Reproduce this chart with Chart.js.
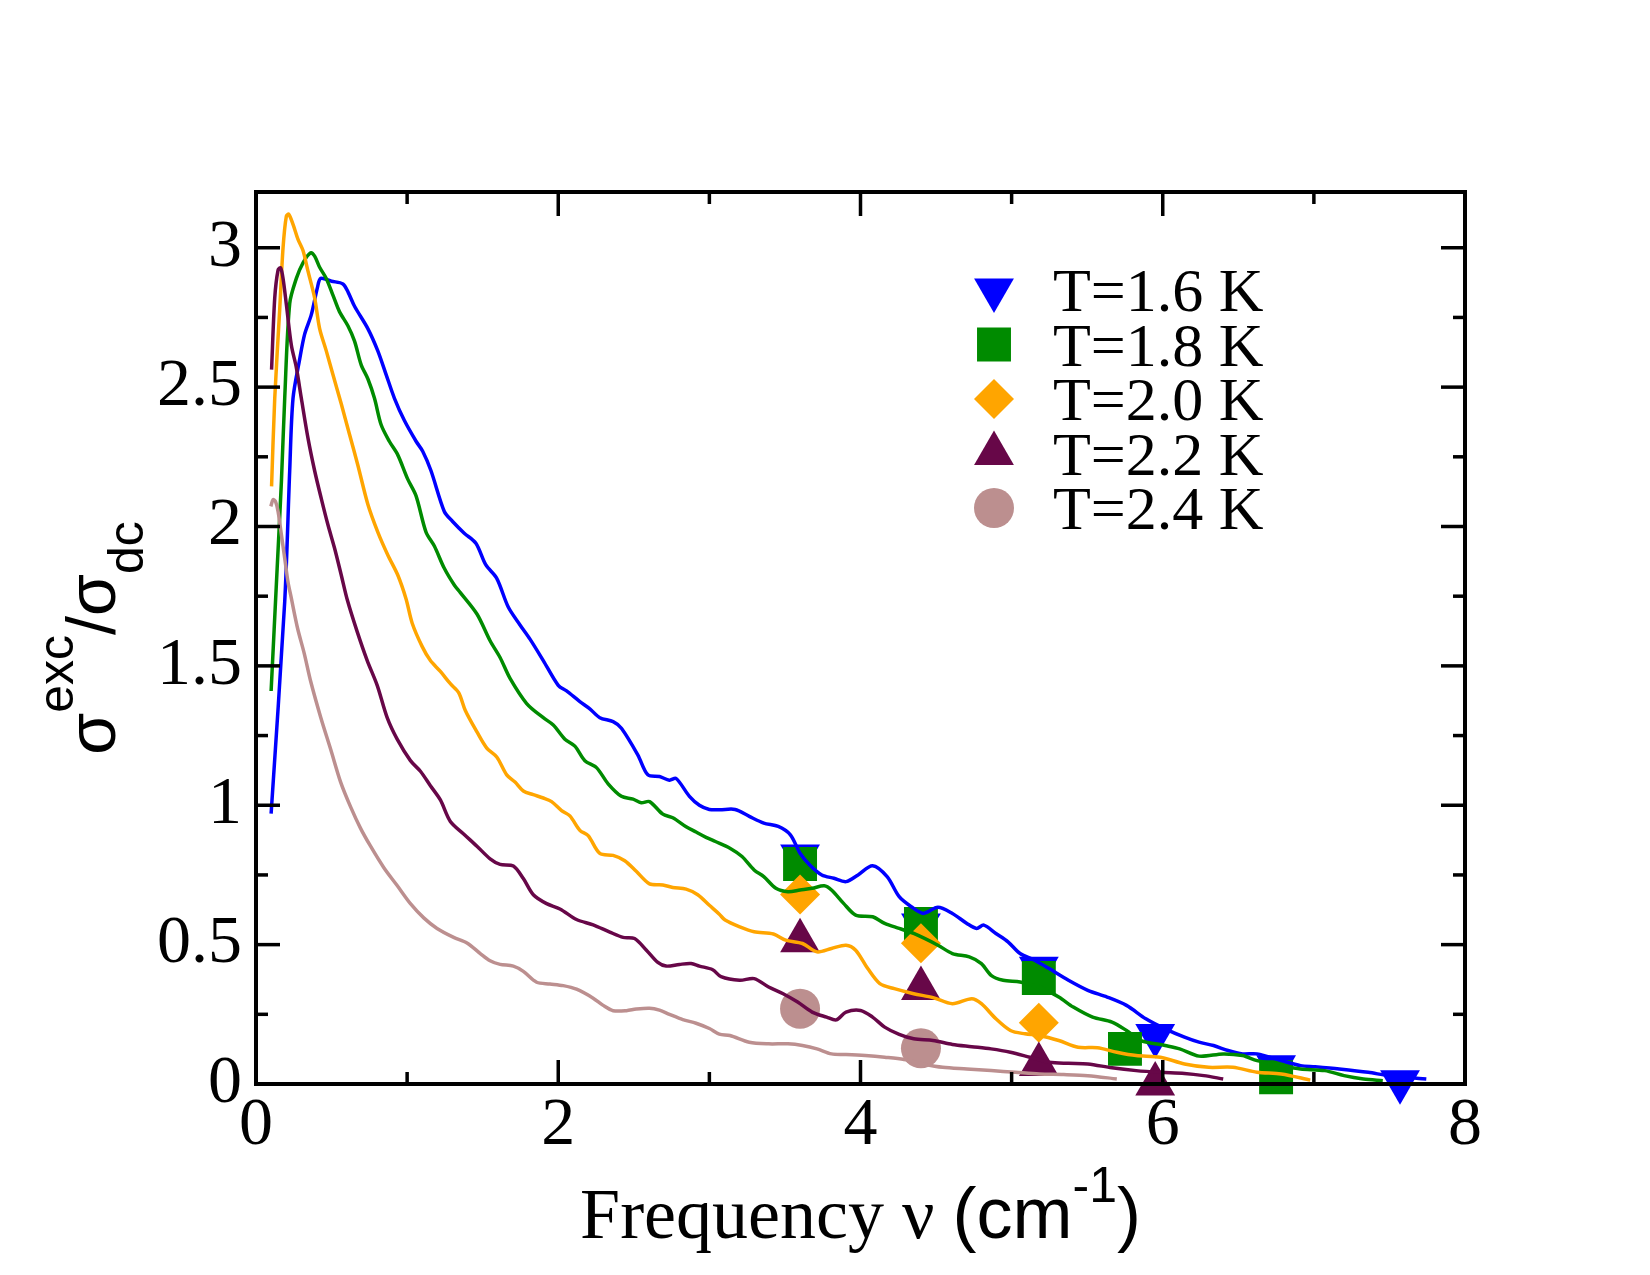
<!DOCTYPE html>
<html><head><meta charset="utf-8">
<script src="https://cdn.jsdelivr.net/npm/chart.js@4.4.0/dist/chart.umd.min.js"></script>
<style>html,body{margin:0;padding:0;background:#fff;}#wrap{width:1650px;height:1275px;position:relative;}</style>
</head><body><div id="wrap"><canvas id="c" width="1650" height="1275"></canvas></div>
<script>
// ---------- data ----------
const xTickLabels = [0, 2, 4, 6, 8];
const xMinorTicks = [1, 3, 5, 7];
const yTickLabels = [0, 0.5, 1, 1.5, 2, 2.5, 3];
const yMinorTicks = [0.25, 0.75, 1.25, 1.75, 2.25, 2.75];
const seriesNames = ['T=1.6 K', 'T=1.8 K', 'T=2.0 K', 'T=2.2 K', 'T=2.4 K'];
const seriesColors = ['#0000ff', '#008b00', '#ffa500', '#670748', '#bc8f8f'];

const line16X = [0.10,0.19,0.223,0.245,0.289,0.322,0.366,0.406,0.428,0.50,0.575,0.61,0.652,0.74,0.806,0.861,0.916,0.982,1.06,1.103,1.158,1.246,1.301,1.378,1.455,1.521,1.593,1.67,1.747,1.813,1.901,2.0,2.055,2.143,2.209,2.275,2.363,2.418,2.527,2.593,2.67,2.736,2.78,2.868,2.934,3.0,3.07,3.17,3.264,3.36,3.456,3.536,3.6,3.664,3.744,3.824,3.904,3.984,4.08,4.176,4.256,4.336,4.416,4.512,4.608,4.704,4.768,4.816,4.896,4.976,5.056,5.152,5.248,5.376,5.504,5.632,5.76,5.888,6.016,6.144,6.24,6.336,6.432,6.528,6.624,6.784,6.912,7.008,7.168,7.36,7.488,7.648,7.744];
const line16Y = [0.97,1.73,2.2,2.46,2.6,2.69,2.76,2.856,2.89,2.88,2.87,2.84,2.79,2.71,2.63,2.545,2.46,2.38,2.305,2.27,2.2,2.054,2.018,1.976,1.94,1.862,1.814,1.71,1.647,1.596,1.519,1.43,1.41,1.372,1.346,1.314,1.30,1.276,1.18,1.109,1.103,1.09,1.096,1.032,1.0,0.985,0.984,0.985,0.96,0.936,0.924,0.894,0.828,0.786,0.75,0.738,0.726,0.75,0.783,0.744,0.672,0.636,0.612,0.634,0.612,0.576,0.558,0.57,0.54,0.51,0.468,0.444,0.414,0.372,0.336,0.312,0.282,0.234,0.198,0.168,0.15,0.138,0.12,0.108,0.108,0.084,0.066,0.062,0.054,0.042,0.03,0.022,0.018];

const line18X = [0.10,0.14,0.168,0.19,0.223,0.267,0.311,0.362,0.388,0.421,0.465,0.509,0.553,0.608,0.652,0.696,0.74,0.784,0.828,0.883,0.938,1.004,1.059,1.125,1.18,1.246,1.312,1.352,1.462,1.549,1.615,1.681,1.791,1.901,1.967,2.044,2.11,2.176,2.253,2.33,2.418,2.495,2.549,2.604,2.692,2.758,2.846,2.912,2.978,3.04,3.136,3.216,3.296,3.36,3.44,3.52,3.6,3.68,3.76,3.808,3.888,3.968,4.08,4.16,4.256,4.352,4.512,4.608,4.72,4.8,4.864,4.944,5.056,5.184,5.312,5.408,5.536,5.664,5.76,5.856,6.016,6.112,6.24,6.4,6.528,6.624,6.784,6.912,7.072,7.2,7.328,7.456];
const line18Y = [1.41,1.85,2.16,2.46,2.8,2.89,2.946,2.982,2.97,2.93,2.89,2.83,2.77,2.72,2.665,2.58,2.53,2.46,2.365,2.305,2.257,2.17,2.11,1.98,1.93,1.85,1.79,1.763,1.686,1.59,1.53,1.455,1.365,1.314,1.288,1.237,1.212,1.16,1.135,1.077,1.032,1.022,1.009,1.013,0.968,0.955,0.923,0.904,0.885,0.87,0.846,0.816,0.768,0.744,0.702,0.69,0.696,0.702,0.711,0.696,0.648,0.606,0.60,0.576,0.558,0.54,0.498,0.468,0.456,0.432,0.39,0.372,0.366,0.348,0.312,0.276,0.24,0.222,0.192,0.156,0.138,0.126,0.10,0.108,0.102,0.084,0.066,0.054,0.048,0.03,0.018,0.012];

const line20X = [0.103,0.124,0.157,0.179,0.201,0.217,0.245,0.278,0.311,0.344,0.388,0.421,0.465,0.509,0.564,0.619,0.674,0.74,0.806,0.872,0.938,0.993,1.033,1.099,1.154,1.22,1.286,1.341,1.385,1.462,1.527,1.593,1.659,1.714,1.769,1.835,1.901,1.956,2.022,2.077,2.143,2.198,2.275,2.363,2.44,2.516,2.604,2.692,2.758,2.846,2.923,3.0,3.066,3.104,3.2,3.296,3.424,3.504,3.616,3.712,3.808,3.904,3.968,4.048,4.128,4.224,4.352,4.48,4.608,4.736,4.8,4.896,4.992,5.088,5.184,5.312,5.44,5.568,5.696,5.824,5.984,6.144,6.304,6.464,6.624,6.784,6.976];
const line20Y = [2.144,2.46,2.78,3.0,3.114,3.12,3.084,3.03,2.99,2.916,2.82,2.71,2.63,2.545,2.44,2.33,2.22,2.08,1.98,1.898,1.826,1.74,1.654,1.57,1.519,1.48,1.436,1.404,1.34,1.263,1.205,1.173,1.109,1.083,1.051,1.038,1.026,1.013,0.981,0.962,0.91,0.891,0.827,0.82,0.801,0.763,0.718,0.714,0.705,0.699,0.679,0.641,0.609,0.588,0.564,0.546,0.538,0.516,0.504,0.474,0.486,0.498,0.48,0.414,0.36,0.342,0.324,0.31,0.288,0.306,0.288,0.234,0.192,0.18,0.174,0.156,0.132,0.13,0.114,0.102,0.096,0.072,0.06,0.06,0.042,0.036,0.014];

const line22X = [0.103,0.124,0.146,0.163,0.179,0.201,0.234,0.267,0.3,0.344,0.388,0.432,0.476,0.52,0.564,0.604,0.67,0.736,0.802,0.868,0.934,1.022,1.088,1.154,1.22,1.286,1.374,1.462,1.549,1.615,1.703,1.769,1.835,1.923,2.011,2.121,2.231,2.341,2.429,2.505,2.582,2.659,2.714,2.802,2.879,2.934,3.022,3.077,3.2,3.296,3.392,3.488,3.584,3.68,3.776,3.84,3.904,4.0,4.08,4.16,4.256,4.352,4.48,4.608,4.736,4.864,4.992,5.12,5.248,5.376,5.504,5.664,5.824,5.984,6.144,6.272,6.4];
const line22Y = [2.563,2.82,2.92,2.928,2.89,2.796,2.65,2.57,2.46,2.317,2.2,2.1,2.006,1.922,1.826,1.737,1.622,1.519,1.43,1.314,1.237,1.16,1.122,1.07,1.019,0.942,0.897,0.853,0.808,0.788,0.782,0.737,0.679,0.647,0.628,0.59,0.571,0.545,0.526,0.522,0.481,0.436,0.423,0.429,0.432,0.423,0.41,0.385,0.372,0.378,0.348,0.324,0.294,0.258,0.24,0.23,0.258,0.264,0.24,0.204,0.178,0.162,0.156,0.142,0.134,0.126,0.114,0.096,0.078,0.074,0.072,0.058,0.048,0.042,0.038,0.03,0.018];

const line24X = [0.098,0.113,0.129,0.146,0.168,0.19,0.212,0.231,0.275,0.319,0.363,0.429,0.495,0.56,0.626,0.692,0.758,0.846,0.934,1.022,1.11,1.198,1.308,1.396,1.484,1.549,1.615,1.703,1.769,1.857,1.945,2.033,2.121,2.231,2.297,2.363,2.451,2.516,2.604,2.67,2.736,2.824,2.912,3.0,3.066,3.136,3.264,3.392,3.52,3.616,3.712,3.808,3.904,4.032,4.16,4.288,4.416,4.544,4.704,4.864,5.024,5.184,5.344,5.504,5.696];
const line24Y = [2.072,2.096,2.09,2.054,1.97,1.886,1.80,1.75,1.635,1.545,1.442,1.314,1.199,1.083,0.994,0.917,0.853,0.776,0.712,0.647,0.596,0.558,0.526,0.506,0.468,0.442,0.429,0.423,0.404,0.365,0.359,0.353,0.34,0.308,0.282,0.263,0.263,0.269,0.272,0.265,0.25,0.231,0.218,0.199,0.179,0.174,0.15,0.144,0.144,0.138,0.126,0.108,0.106,0.102,0.096,0.088,0.072,0.06,0.054,0.048,0.042,0.036,0.034,0.03,0.018];

const mark16X = [3.6, 4.4, 5.18, 5.95, 6.75, 7.57];
const mark16Y = [0.818, 0.57, 0.415, 0.174, 0.062, 0.008];
const mark18X = [3.6, 4.4, 5.18, 5.75, 6.75];
const mark18Y = [0.789, 0.574, 0.38, 0.126, 0.024];
const mark20X = [3.6, 4.4, 5.18];
const mark20Y = [0.68, 0.505, 0.22];
const mark22X = [3.6, 4.4, 5.18, 5.95];
const mark22Y = [0.514, 0.343, 0.07, 0.0];
const mark24X = [3.6, 4.4];
const mark24Y = [0.27, 0.128];

// ---------- build ----------
const SERIF = "'Liberation Serif','Times New Roman',serif";
const SANS = "'Liberation Sans',Arial,sans-serif";
const pts = (xs, ys) => xs.map((x, i) => ({x: x, y: ys[i]}));

const lineSets = [[line16X,line16Y],[line18X,line18Y],[line20X,line20Y],[line22X,line22Y],[line24X,line24Y]];
const markSets = [[mark16X,mark16Y],[mark18X,mark18Y],[mark20X,mark20Y],[mark22X,mark22Y],[mark24X,mark24Y]];
const markStyles = [
  {pointStyle:'triangle', rotation:180, radius:23},
  {pointStyle:'rect', rotation:0, radius:24},
  {pointStyle:'rectRot', rotation:0, radius:20},
  {pointStyle:'triangle', rotation:0, radius:23},
  {pointStyle:'circle', rotation:0, radius:20}
];

const datasets = [];
lineSets.forEach((s, i) => {
  datasets.push({
    label: seriesNames[i] + ' line', isLine: true,
    data: pts(s[0], s[1]), showLine: true, borderColor: seriesColors[i], backgroundColor: seriesColors[i],
    borderWidth: 3.5, pointRadius: 0, tension: 0.3, order: 5 - i
  });
});
markSets.forEach((s, i) => {
  datasets.push({
    label: seriesNames[i], isMarker: true, seriesIndex: i,
    data: pts(s[0], s[1]), showLine: false, borderColor: seriesColors[i], backgroundColor: seriesColors[i],
    borderWidth: 0, pointStyle: markStyles[i].pointStyle, rotation: markStyles[i].rotation,
    pointRadius: markStyles[i].radius, order: 20 - i, clip: false
  });
});

function drawMarker(ctx, st, color, x, y) {
  ctx.save();
  ctx.fillStyle = color; ctx.strokeStyle = color; ctx.lineWidth = 0;
  if (Chart.helpers && Chart.helpers.drawPoint) {
    Chart.helpers.drawPoint(ctx, {pointStyle: st.pointStyle, rotation: st.rotation, radius: st.radius, borderWidth: 0}, x, y);
  } else {
    const r = st.radius; ctx.beginPath();
    if (st.pointStyle === 'circle') ctx.arc(x, y, r, 0, Math.PI * 2);
    else if (st.pointStyle === 'rect') { const s = r * Math.SQRT1_2; ctx.rect(x - s, y - s, 2 * s, 2 * s); }
    else if (st.pointStyle === 'rectRot') { ctx.moveTo(x, y - r); ctx.lineTo(x + r, y); ctx.lineTo(x, y + r); ctx.lineTo(x - r, y); ctx.closePath(); }
    else { const rad = st.rotation * Math.PI / 180; for (let k = 0; k < 3; k++) { const a = rad + k * 2 * Math.PI / 3; const px = x + Math.sin(a) * r, py = y - Math.cos(a) * r; if (k === 0) ctx.moveTo(px, py); else ctx.lineTo(px, py); } ctx.closePath(); }
    ctx.fill();
  }
  ctx.restore();
}

const framePlugin = {
  id: 'frame',
  afterDraw(chart) {
    const ctx = chart.ctx, a = chart.chartArea, xs = chart.scales.x, ys = chart.scales.y;
    ctx.save();
    ctx.strokeStyle = '#000'; ctx.lineCap = 'butt';
    ctx.lineWidth = 3.5;
    const tick = (x1, y1, x2, y2) => { ctx.beginPath(); ctx.moveTo(x1, y1); ctx.lineTo(x2, y2); ctx.stroke(); };
    xTickLabels.forEach(v => { const p = xs.getPixelForValue(v); tick(p, a.bottom, p, a.bottom - 24); tick(p, a.top, p, a.top + 24); });
    xMinorTicks.forEach(v => { const p = xs.getPixelForValue(v); tick(p, a.bottom, p, a.bottom - 12); tick(p, a.top, p, a.top + 12); });
    yTickLabels.forEach(v => { const p = ys.getPixelForValue(v); tick(a.left, p, a.left + 24, p); tick(a.right, p, a.right - 24, p); });
    yMinorTicks.forEach(v => { const p = ys.getPixelForValue(v); tick(a.left, p, a.left + 12, p); tick(a.right, p, a.right - 12, p); });
    ctx.lineWidth = 4;
    ctx.strokeRect(a.left, a.top, a.right - a.left, a.bottom - a.top);

    // legend
    chart.data.datasets.forEach((ds) => {
      if (!ds.isMarker) return;
      const i = ds.seriesIndex;
      const rowY = 290 + i * 54.5;
      drawMarker(ctx, markStyles[i], ds.backgroundColor, 994, rowY);
      ctx.fillStyle = '#000'; ctx.font = '62px ' + SERIF; ctx.textAlign = 'left'; ctx.textBaseline = 'alphabetic';
      ctx.fillText(ds.label, 1053, rowY + 21);
    });

    // x title: Frequency ν (cm^-1)
    const cx = (a.left + a.right) / 2, base = 1238;
    const parts = [
      {t: 'Frequency \u03bd ', f: '72px ' + SERIF, dy: 0},
      {t: '(cm', f: '72px ' + SANS, dy: 0},
      {t: '-1', f: '50px ' + SANS, dy: -36},
      {t: ')', f: '72px ' + SANS, dy: 0}
    ];
    let W = 0;
    parts.forEach(p => { ctx.font = p.f; p.w = ctx.measureText(p.t).width; W += p.w; });
    let x = cx - W / 2;
    ctx.fillStyle = '#000'; ctx.textAlign = 'left'; ctx.textBaseline = 'alphabetic';
    parts.forEach(p => { ctx.font = p.f; ctx.fillText(p.t, x, base + p.dy); x += p.w; });

    // y title: σ^exc / σ_dc (rotated)
    const cy = (a.top + a.bottom) / 2;
    const yparts = [
      {t: '\u03c3', f: '68px ' + SANS, dy: 0},
      {t: 'exc', f: '50px ' + SANS, dy: -42},
      {t: '/', f: '68px ' + SANS, dy: 0},
      {t: '\u03c3', f: '68px ' + SANS, dy: 0},
      {t: 'dc', f: '50px ' + SANS, dy: 28}
    ];
    let W2 = 0;
    yparts.forEach(p => { ctx.font = p.f; p.w = ctx.measureText(p.t).width; W2 += p.w; });
    ctx.translate(115, cy); ctx.rotate(-Math.PI / 2);
    let lx = -W2 / 2;
    yparts.forEach(p => { ctx.font = p.f; ctx.fillText(p.t, lx, p.dy); lx += p.w; });
    ctx.restore();
  }
};

new Chart(document.getElementById('c'), {
  type: 'scatter',
  data: {datasets: datasets},
  options: {
    responsive: false, animation: false, devicePixelRatio: 1, events: [],
    layout: {padding: {left: 0, top: 192, right: 185, bottom: 0}},
    plugins: {legend: {display: false}, tooltip: {enabled: false}, title: {display: false}},
    scales: {
      x: {
        type: 'linear', position: 'bottom', min: 0, max: 8,
        grid: {display: false, drawTicks: false}, border: {display: false},
        ticks: {color: '#000', font: {family: SERIF, size: 68}, padding: 1, maxRotation: 0, autoSkip: false,
                callback: v => String(v)},
        afterBuildTicks: s => { s.ticks = xTickLabels.map(v => ({value: v})); },
        afterFit: s => { s.height = 191; }
      },
      y: {
        type: 'linear', position: 'left', min: 0, max: 3.2,
        grid: {display: false, drawTicks: false}, border: {display: false},
        ticks: {color: '#000', font: {family: SERIF, size: 68}, padding: 14, autoSkip: false,
                callback: v => String(v)},
        afterBuildTicks: s => { s.ticks = yTickLabels.map(v => ({value: v})); },
        afterFit: s => { s.width = 256; }
      }
    }
  },
  plugins: [framePlugin]
});
</script></body></html>
